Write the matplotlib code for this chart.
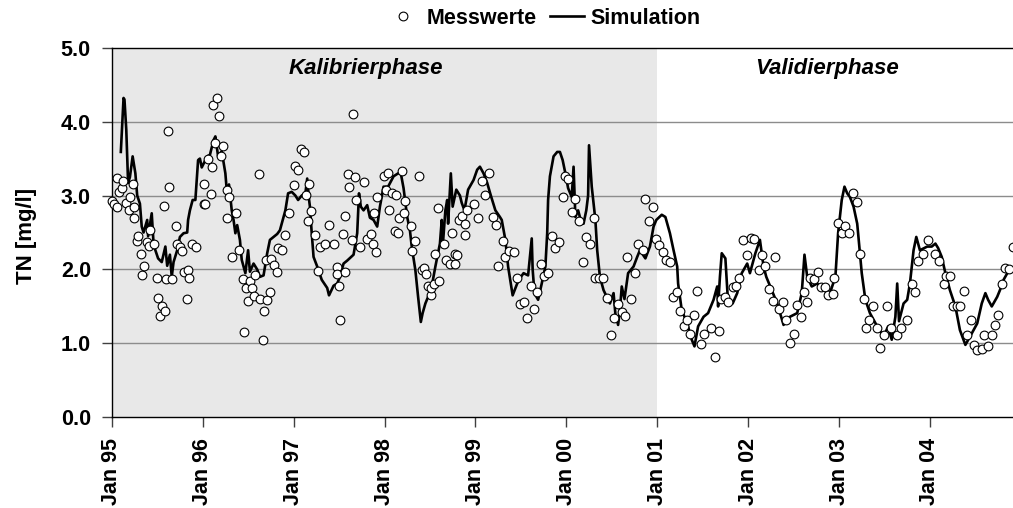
import numpy as np
import pandas as pd
import matplotlib
matplotlib.use("Agg")
import matplotlib.pyplot as plt
import matplotlib.dates as mdates

plt.rcParams['font.family'] = ['Liberation Sans', 'DejaVu Sans']
plt.rcParams['font.weight'] = 'bold'

# Messwerte (Dezimaljahr, TN in mg/l)
meas_year = [1995.00, 1995.03, 1995.06, 1995.06, 1995.08, 1995.11, 1995.12, 1995.16, 1995.19, 1995.20,
             1995.23, 1995.24, 1995.25, 1995.28, 1995.29, 1995.32, 1995.33, 1995.36, 1995.39, 1995.41,
             1995.42, 1995.47, 1995.50, 1995.51, 1995.53, 1995.55, 1995.57, 1995.59, 1995.60, 1995.62,
             1995.63, 1995.66, 1995.71, 1995.72, 1995.75, 1995.77, 1995.80, 1995.83, 1995.84, 1995.85,
             1995.88, 1995.93, 1996.01, 1996.03, 1996.01, 1996.06, 1996.09, 1996.10, 1996.11, 1996.14,
             1996.16, 1996.18, 1996.20, 1996.22, 1996.27, 1996.27, 1996.29, 1996.32, 1996.37, 1996.40,
             1996.44, 1996.46, 1996.48, 1996.50, 1996.52, 1996.54, 1996.57, 1996.58, 1996.62, 1996.63,
             1996.66, 1996.67, 1996.70, 1996.71, 1996.74, 1996.75, 1996.79, 1996.82, 1996.83, 1996.87,
             1996.91, 1996.95, 1997.00, 1997.02, 1997.05, 1997.08, 1997.12, 1997.14, 1997.16, 1997.17,
             1997.19, 1997.24, 1997.27, 1997.29, 1997.35, 1997.39, 1997.44, 1997.48, 1997.48, 1997.50,
             1997.51, 1997.54, 1997.57, 1997.57, 1997.60, 1997.61, 1997.64, 1997.65, 1997.68, 1997.69,
             1997.73, 1997.77, 1997.81, 1997.85, 1997.87, 1997.88, 1997.91, 1997.92, 1997.99, 1998.02,
             1998.04, 1998.05, 1998.08, 1998.12, 1998.13, 1998.15, 1998.16, 1998.19, 1998.21, 1998.23,
             1998.29, 1998.30, 1998.34, 1998.38, 1998.41, 1998.43, 1998.46, 1998.48, 1998.51, 1998.51,
             1998.55, 1998.56, 1998.59, 1998.60, 1998.65, 1998.68, 1998.72, 1998.74, 1998.78, 1998.78,
             1998.80, 1998.82, 1998.85, 1998.89, 1998.89, 1998.91, 1998.99, 1999.03, 1999.07, 1999.11,
             1999.15, 1999.19, 1999.23, 1999.25, 1999.30, 1999.33, 1999.37, 1999.42, 1999.46, 1999.49,
             1999.54, 1999.57, 1999.61, 1999.65, 1999.68, 1999.72, 1999.75, 1999.80, 1999.84, 1999.88,
             1999.92, 1999.96, 1999.99, 2000.02, 2000.06, 2000.10, 2000.14, 2000.18, 2000.22, 2000.26,
             2000.30, 2000.32, 2000.36, 2000.40, 2000.45, 2000.49, 2000.53, 2000.57, 2000.61, 2000.65,
             2000.67, 2000.71, 2000.76, 2000.79, 2000.84, 2000.87, 2000.91, 2000.95, 2000.99, 2001.02,
             2001.06, 2001.10, 2001.14, 2001.17, 2001.22, 2001.25, 2001.29, 2001.33, 2001.36, 2001.41,
             2001.44, 2001.48, 2001.52, 2001.59, 2001.64, 2001.68, 2001.70, 2001.75, 2001.78, 2001.83,
             2001.87, 2001.90, 2001.94, 2001.99, 2002.03, 2002.07, 2002.12, 2002.15, 2002.19, 2002.23,
             2002.27, 2002.30, 2002.34, 2002.38, 2002.42, 2002.46, 2002.50, 2002.54, 2002.58, 2002.61,
             2002.65, 2002.68, 2002.72, 2002.77, 2002.80, 2002.85, 2002.88, 2002.93, 2002.94, 2002.99,
             2003.03, 2003.07, 2003.11, 2003.15, 2003.20, 2003.23, 2003.27, 2003.30, 2003.33, 2003.37,
             2003.42, 2003.45, 2003.49, 2003.53, 2003.57, 2003.64, 2003.68, 2003.75, 2003.80, 2003.84,
             2003.87, 2003.92, 2003.98, 2004.06, 2004.10, 2004.15, 2004.18, 2004.22, 2004.25, 2004.30,
             2004.33, 2004.37, 2004.41, 2004.45, 2004.49, 2004.52, 2004.57, 2004.60, 2004.64, 2004.68,
             2004.72, 2004.75, 2004.79, 2004.83, 2004.87, 2004.91]
meas_tn = [2.93, 2.89, 2.85, 3.24, 3.05, 3.10, 3.20, 2.90, 2.80, 2.98,
           3.16, 2.84, 2.70, 2.39, 2.45, 2.21, 1.92, 2.05, 2.37, 2.32,
           2.54, 2.35, 1.88, 1.62, 1.37, 1.51, 2.86, 1.44, 1.87, 3.87,
           3.11, 1.87, 2.59, 2.35, 2.31, 2.25, 1.96, 1.60, 1.99, 1.88,
           2.34, 2.31, 2.89, 2.89, 3.15, 3.50, 3.02, 3.38, 4.23, 3.71,
           4.32, 4.08, 3.53, 3.67, 3.08, 2.70, 2.98, 2.17, 2.77, 2.26,
           1.87, 1.16, 1.75, 1.58, 1.84, 1.75, 1.64, 1.92, 3.29, 1.60,
           1.05, 1.44, 2.13, 1.59, 1.69, 2.14, 2.06, 1.97, 2.29, 2.27,
           2.47, 2.77, 3.14, 3.40, 3.34, 3.63, 3.59, 3.01, 2.66, 3.16,
           2.79, 2.47, 1.98, 2.31, 2.35, 2.60, 2.35, 2.03, 1.94, 1.78,
           1.31, 2.48, 1.96, 2.73, 3.29, 3.11, 2.40, 4.10, 3.25, 2.94,
           2.31, 3.18, 2.41, 2.48, 2.35, 2.77, 2.24, 2.98, 3.27, 3.08,
           3.31, 2.81, 3.03, 2.52, 3.01, 2.50, 2.69, 3.33, 2.76, 2.93,
           2.59, 2.25, 2.39, 3.27, 1.99, 2.02, 1.94, 1.78, 1.65, 1.75,
           1.80, 2.21, 2.83, 1.85, 2.35, 2.13, 2.07, 2.49, 2.21, 2.08,
           2.19, 2.67, 2.72, 2.46, 2.62, 2.80, 2.89, 2.70, 3.20, 3.01,
           3.30, 2.71, 2.60, 2.05, 2.39, 2.17, 2.25, 2.23, 1.89, 1.53,
           1.56, 1.35, 1.78, 1.47, 1.69, 2.08, 1.91, 1.95, 2.45, 2.29,
           2.37, 2.98, 3.26, 3.22, 2.78, 2.96, 2.66, 2.10, 2.44, 2.34,
           2.69, 1.88, 1.88, 1.89, 1.62, 1.11, 1.34, 1.53, 1.43, 1.37,
           2.17, 1.60, 1.95, 2.34, 2.27, 2.95, 2.65, 2.85, 2.41, 2.33,
           2.24, 2.13, 2.10, 1.63, 1.69, 1.44, 1.24, 1.32, 1.13, 1.38,
           1.71, 0.99, 1.13, 1.21, 0.82, 1.17, 1.60, 1.63, 1.56, 1.76,
           1.78, 1.88, 2.40, 2.20, 2.43, 2.41, 1.99, 2.20, 2.05, 1.73,
           1.57, 2.17, 1.47, 1.56, 1.31, 1.00, 1.13, 1.52, 1.36, 1.69,
           1.56, 1.89, 1.87, 1.96, 1.76, 1.76, 1.65, 1.67, 1.89, 2.63,
           2.50, 2.59, 2.50, 3.03, 2.91, 2.21, 1.60, 1.21, 1.32, 1.51,
           1.21, 0.94, 1.12, 1.51, 1.21, 1.12, 1.21, 1.32, 1.81, 1.70,
           2.11, 2.21, 2.40, 2.21, 2.11, 1.81, 1.91, 1.91, 1.51, 1.51,
           1.51, 1.71, 1.11, 1.32, 0.98, 0.91, 0.92, 1.11, 0.97, 1.11,
           1.25, 1.39, 1.81, 2.02, 2.00, 2.31]

# Simulation (Dezimaljahr, TN in mg/l)
sim_year = [1995.10, 1995.13, 1995.14, 1995.16, 1995.18, 1995.20, 1995.23, 1995.26, 1995.28, 1995.31,
            1995.33, 1995.35, 1995.39, 1995.40, 1995.44, 1995.46, 1995.48, 1995.51, 1995.55, 1995.59,
            1995.61, 1995.64, 1995.66, 1995.68, 1995.72, 1995.75, 1995.79, 1995.83, 1995.84, 1995.86,
            1995.89, 1995.92, 1995.95, 1995.97, 1995.99, 1996.05, 1996.08, 1996.12, 1996.14, 1996.17,
            1996.21, 1996.25, 1996.27, 1996.29, 1996.32, 1996.34, 1996.36, 1996.38, 1996.41, 1996.43,
            1996.47, 1996.50, 1996.52, 1996.56, 1996.60, 1996.63, 1996.67, 1996.71, 1996.74, 1996.78,
            1996.82, 1996.85, 1996.87, 1996.91, 1996.94, 1996.98, 1997.02, 1997.05, 1997.09, 1997.13,
            1997.15, 1997.17, 1997.18, 1997.20, 1997.22, 1997.26, 1997.31, 1997.37, 1997.39, 1997.44,
            1997.48, 1997.51, 1997.55, 1997.59, 1997.66, 1997.70, 1997.72, 1997.74, 1997.77, 1997.81,
            1997.84, 1997.88, 1997.92, 1997.95, 1997.99, 1998.04, 1998.10, 1998.15, 1998.18, 1998.21,
            1998.25, 1998.28, 1998.30, 1998.34, 1998.37, 1998.40, 1998.42, 1998.45, 1998.48, 1998.52,
            1998.56, 1998.61, 1998.63, 1998.64, 1998.67, 1998.69, 1998.70, 1998.73, 1998.75, 1998.79,
            1998.83, 1998.85, 1998.88, 1998.92, 1998.98, 1999.02, 1999.05, 1999.09, 1999.13, 1999.17,
            1999.22, 1999.27, 1999.29, 1999.33, 1999.36, 1999.39, 1999.41, 1999.46, 1999.49, 1999.53,
            1999.58, 1999.62, 1999.63, 1999.65, 1999.69, 1999.73, 1999.77, 1999.79, 1999.80, 1999.82,
            1999.86, 1999.90, 1999.93, 1999.96, 1999.99, 2000.02, 2000.06, 2000.08, 2000.10, 2000.13,
            2000.17, 2000.19, 2000.22, 2000.24, 2000.25, 2000.28, 2000.32, 2000.34, 2000.37, 2000.41,
            2000.48, 2000.52, 2000.54, 2000.57, 2000.59, 2000.61, 2000.64, 2000.68, 2000.74, 2000.78,
            2000.81, 2000.87, 2000.92, 2000.96, 2000.99, 2001.05, 2001.09, 2001.12, 2001.14, 2001.18,
            2001.22, 2001.23, 2001.27, 2001.33, 2001.38, 2001.41, 2001.45, 2001.51, 2001.56, 2001.62,
            2001.66, 2001.67, 2001.69, 2001.71, 2001.75, 2001.78, 2001.83, 2001.88, 2001.93, 2001.99,
            2002.02, 2002.08, 2002.13, 2002.17, 2002.20, 2002.26, 2002.32, 2002.39, 2002.46, 2002.54,
            2002.59, 2002.62, 2002.65, 2002.70, 2002.76, 2002.83, 2002.90, 2002.96, 2002.99, 2003.03,
            2003.06, 2003.09, 2003.12, 2003.16, 2003.20, 2003.21, 2003.25, 2003.29, 2003.34, 2003.42,
            2003.49, 2003.54, 2003.58, 2003.62, 2003.64, 2003.66, 2003.71, 2003.75, 2003.78, 2003.82,
            2003.85, 2003.89, 2003.97, 2004.02, 2004.06, 2004.09, 2004.13, 2004.17, 2004.22, 2004.28,
            2004.33, 2004.39, 2004.44, 2004.52, 2004.57, 2004.61, 2004.64, 2004.68, 2004.74, 2004.77,
            2004.81, 2004.86, 2004.91]
sim_tn = [3.59, 4.32, 4.30, 3.89, 3.17, 3.25, 3.53, 3.30, 3.00, 2.89,
          2.58, 2.50, 2.67, 2.45, 2.76, 2.35, 2.26, 2.15, 2.10, 2.31,
          2.05, 2.20, 1.90, 2.10, 2.26, 2.44, 2.49, 2.50, 2.67, 2.80,
          2.94, 2.94, 3.48, 3.50, 3.38, 3.53, 3.55, 3.75, 3.80, 3.53,
          3.60, 3.30, 3.00, 3.15, 2.80, 2.67, 2.49, 2.60, 2.40, 2.13,
          1.95, 2.26, 1.97, 2.08, 2.00, 1.90, 1.92, 2.22, 2.40, 2.44,
          2.48, 2.53, 2.62, 2.80, 3.03, 3.05, 3.00, 2.94, 3.00, 3.03,
          3.23, 2.95, 2.85, 2.49, 2.17, 2.04, 1.86, 1.75, 1.65, 1.78,
          1.81, 1.90, 2.08, 2.12, 2.20, 2.49, 3.03, 2.85, 2.80, 2.87,
          2.70, 2.67, 2.58, 2.85, 3.12, 3.12, 3.26, 3.30, 3.30, 3.10,
          2.71, 2.53, 2.31, 1.99, 1.63, 1.29, 1.41, 1.54, 1.63, 1.77,
          2.04, 2.35, 2.67, 2.30, 2.80, 2.94, 2.62, 3.30, 2.85, 3.08,
          3.00, 2.90, 2.80, 3.08, 3.21, 3.35, 3.39, 3.30, 3.17, 3.00,
          2.80, 2.71, 2.67, 2.40, 2.04, 1.81, 1.65, 1.81, 1.88, 1.95,
          1.92, 2.42, 2.00, 1.68, 1.59, 1.81, 2.04, 2.49, 2.94, 3.26,
          3.53, 3.59, 3.59, 3.48, 3.30, 3.10, 2.98, 3.39, 2.71, 2.80,
          2.62, 2.62, 2.80, 3.00, 3.68, 3.12, 2.67, 2.26, 1.90, 1.72,
          1.54, 1.68, 1.40, 1.25, 1.45, 1.77, 1.60, 1.95, 2.04, 2.17,
          2.26, 2.15, 2.31, 2.58, 2.67, 2.74, 2.71, 2.58, 2.49, 2.26,
          2.04, 1.81, 1.45, 1.27, 1.05, 0.96, 1.23, 1.36, 1.41, 1.59,
          1.77, 1.50, 1.90, 2.22, 2.15, 1.54, 1.54, 1.68, 1.95, 2.08,
          1.95, 2.22, 2.40, 2.04, 1.90, 1.72, 1.54, 1.25, 1.36, 1.41,
          1.68, 2.20, 1.90, 1.77, 1.81, 1.72, 1.68, 1.90, 2.49, 2.94,
          3.12, 3.03, 2.98, 2.85, 2.62, 2.49, 1.95, 1.59, 1.41, 1.23,
          1.09, 1.23, 1.05, 1.36, 1.81, 1.30, 1.54, 1.59, 1.81, 2.26,
          2.44, 2.26, 2.31, 2.31, 2.35, 2.29, 2.17, 1.95, 1.72, 1.50,
          1.18, 0.98, 1.09, 1.27, 1.54, 1.68, 1.59, 1.50, 1.63, 1.72,
          1.86, 1.97, 2.02]

phase_labels = ['Kalibrierphase', 'Validierphase']
phase_label_year = [1997.80, 2002.87]
y_ticks = [0.0, 1.0, 2.0, 3.0, 4.0, 5.0]


def to_date(yr):
    yr = np.asarray(yr, dtype=float)
    return pd.Timestamp('1995-01-01') + pd.to_timedelta((yr - 1995.0) * 365.25, unit='D')


meas_dates = to_date(meas_year)
sim_dates = to_date(sim_year)
label_dates = to_date(phase_label_year)

fig = plt.figure(figsize=(10.13, 5.08), dpi=100)
ax = fig.add_axes([0.1103, 0.1785, 0.8897, 0.7276])

x0 = pd.Timestamp('1995-01-01')
x_split = pd.Timestamp('2001-01-01')
x1 = pd.Timestamp('2004-11-30')

ax.axvspan(x0, x_split, color='#e8e8e8', zorder=0.2, lw=0)
for yv in y_ticks[1:-1]:
    ax.axhline(yv, color='#8c8c8c', lw=1.0, zorder=0.5)

ax.plot(sim_dates, sim_tn, color='black', lw=1.9, zorder=2, label='Simulation')
ax.plot(meas_dates, meas_tn, 'o', ms=6.3, mfc='white', mec='black', mew=0.8,
        zorder=3, label='Messwerte', clip_on=False)

ax.set_xlim(x0, x1)
ax.set_ylim(0, 5)
ax.set_yticks(y_ticks)
ax.set_yticklabels(['%.1f' % v for v in y_ticks])
ax.xaxis.set_major_locator(mdates.YearLocator())
ax.xaxis.set_major_formatter(mdates.DateFormatter('%b %y'))
for lab in ax.get_xticklabels():
    lab.set_rotation(90)

ax.tick_params(axis='both', labelsize=15.5, direction='out', length=7, width=1,
               color='#404040', pad=8)
ax.set_ylabel('TN [mg/l]', fontsize=16, fontweight='bold')
ax.yaxis.set_label_coords(-0.083, 0.49)

ax.spines['right'].set_visible(False)
for s in ['left', 'bottom', 'top']:
    ax.spines[s].set_linewidth(1.0)
    ax.spines[s].set_color('black')

for d, txt in zip(label_dates, phase_labels):
    ax.text(d, 4.72, txt, fontsize=16, fontweight='bold', style='italic',
            ha='center', va='center')

handles, labels = ax.get_legend_handles_labels()
ax.legend(handles[::-1], labels[::-1], ncol=2, loc='center', bbox_to_anchor=(0.479, 1.08),
          frameon=False, fontsize=15.5, handlelength=1.6, handletextpad=0.3,
          columnspacing=0.6, borderaxespad=0)

fig.savefig('out.png', dpi=100)
